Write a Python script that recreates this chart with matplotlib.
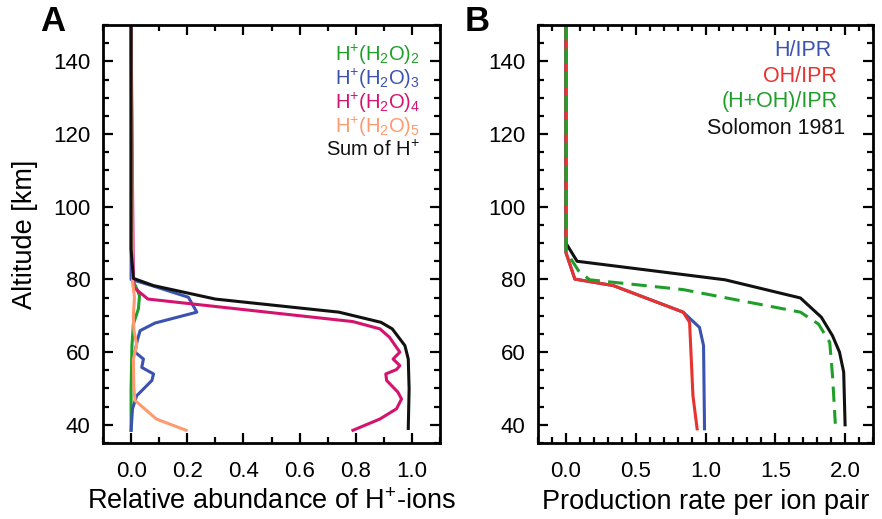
import matplotlib
matplotlib.use("Agg")
import matplotlib.pyplot as plt
from matplotlib.ticker import MultipleLocator

plt.rcParams['font.family'] = ['Liberation Sans', 'DejaVu Sans']
plt.rcParams['mathtext.fontset'] = 'custom'
plt.rcParams['mathtext.rm'] = 'Liberation Sans'
plt.rcParams['mathtext.it'] = 'Liberation Sans'
plt.rcParams['mathtext.bf'] = 'Liberation Sans:bold'

# ---- Panel A data: relative abundance vs altitude ----
alt_a_h2 = [150, 80, 77.5, 75.5, 71.9, 67.7, 61.6, 50, 38.5]
x_a_h2 = [0, 0.005, 0.02, 0.03, 0.026, 0.008, 0.003, 0.0, 0.0]

alt_a_h3 = [150, 80, 78.3, 75.1, 71, 68, 65.9, 63.2, 60, 58.1, 55.8, 54, 52.2, 48, 44.4, 38.5]
x_a_h3 = [0, 0, 0.074, 0.204, 0.234, 0.085, 0.032, 0.022, 0.014, 0.044, 0.038, 0.08, 0.074, 0.02, 0.005, 0]

alt_a_h4 = [150, 80.1, 77.9, 74.6, 68.4, 66.4, 64.1, 60, 58.1, 56.3, 55.2, 54, 52.2, 49, 47.1, 44.4, 41.6, 38.5]
x_a_h4 = [0, 0.008, 0.008, 0.06, 0.79, 0.886, 0.92, 0.957, 0.933, 0.957, 0.945, 0.907, 0.91, 0.95, 0.963, 0.945, 0.886, 0.79]

alt_a_h5 = [150, 80, 75, 70, 66, 62, 58, 50, 46.7, 41.6, 38.5]
x_a_h5 = [0, 0.005, 0.012, 0.008, 0.01, 0.02, 0.008, 0.01, 0.014, 0.09, 0.196]

alt_a_sum = [150, 88.4, 80.3, 78.3, 74.6, 71, 68.2, 66.4, 61.8, 58.1, 50, 39]
x_a_sum = [0, 0, 0.008, 0.08, 0.30, 0.74, 0.89, 0.93, 0.975, 0.987, 0.99, 0.987]

# ---- Panel B data: production rate per ion pair ----
alt_b_h = [150, 87.4, 80.1, 78.3, 71, 66.8, 61.8, 38.9]
x_b_h = [0, 0, 0.064, 0.34, 0.84, 0.957, 0.986, 0.993]

alt_b_oh = [150, 87.4, 80.1, 78.3, 71, 68.2, 48, 38.9]
x_b_oh = [0, 0, 0.064, 0.34, 0.84, 0.886, 0.91, 0.94]

alt_b_hoh = [150, 87.8, 82.4, 79.9, 77.2, 71, 67.7, 62.7, 53.5, 40.3]
x_b_hoh = [0, 0, 0.09, 0.17, 0.84, 1.68, 1.81, 1.89, 1.91, 1.93]

alt_b_sol = [150, 90, 85, 79.9, 74.9, 69.6, 64.5, 60, 54.5, 40]
x_b_sol = [0, 0, 0.08, 1.14, 1.68, 1.83, 1.91, 1.96, 1.99, 2.0]

labels_a = [r'H$^{+}$(H$_2$O)$_2$', r'H$^{+}$(H$_2$O)$_3$', r'H$^{+}$(H$_2$O)$_4$',
            r'H$^{+}$(H$_2$O)$_5$', r'Sum of H$^{+}$']
labels_b = ['H/IPR', 'OH/IPR', '(H+OH)/IPR', 'Solomon 1981']

GREEN = '#1f9f2a'
BLUE = '#3b52b0'
MAGENTA = '#d4136e'
ORANGE = '#ff9a70'
RED = '#e8322e'
BLACK = '#111111'

fig = plt.figure(figsize=(8.82, 5.19), dpi=100)
axA = fig.add_axes([103/882, 1-443/519, 337/882, 418/519])
axB = fig.add_axes([538/882, 1-443/519, 335/882, 418/519])

lw = 2.2
axA.plot(x_a_h2, alt_a_h2, color=GREEN, lw=lw)
axA.plot(x_a_h3, alt_a_h3, color=BLUE, lw=lw)
axA.plot(x_a_h4, alt_a_h4, color=MAGENTA, lw=lw)
axA.plot(x_a_h5, alt_a_h5, color=ORANGE, lw=lw)
axA.plot(x_a_sum, alt_a_sum, color=BLACK, lw=lw)

axB.plot(x_b_sol, alt_b_sol, color=BLACK, lw=lw)
axB.plot(x_b_h, alt_b_h, color=BLUE, lw=lw)
axB.plot(x_b_oh, alt_b_oh, color=RED, lw=lw)
axB.plot(x_b_hoh, alt_b_hoh, color=GREEN, lw=lw, dashes=(5, 2.7))

axA.set_xlim(-0.1, 1.1)
axB.set_xlim(-0.2, 2.2)
for ax in (axA, axB):
    ax.set_ylim(35, 150)
    ax.yaxis.set_major_locator(MultipleLocator(20))
    ax.yaxis.set_minor_locator(MultipleLocator(5))
    for s in ax.spines.values():
        s.set_linewidth(2.0)
    ax.tick_params(which='both', direction='in', top=True, right=True, width=1.6, labelsize=16)
    ax.tick_params(which='major', length=7)
    ax.tick_params(which='minor', length=4)
    ax.tick_params(axis='x', pad=13)
    ax.tick_params(axis='y', pad=9)

axA.xaxis.set_major_locator(MultipleLocator(0.2))
axA.xaxis.set_minor_locator(MultipleLocator(0.1))
axB.xaxis.set_major_locator(MultipleLocator(0.5))
axB.xaxis.set_minor_locator(MultipleLocator(0.1))

axA.set_xlabel(r'Relative abundance of H$^{+}$-ions', fontsize=19.5, labelpad=5)
axB.set_xlabel('Production rate per ion pair', fontsize=19.5, labelpad=5)
axA.set_ylabel('Altitude [km]', fontsize=19.5, labelpad=11)

# legends as coloured text
cols_a = [GREEN, BLUE, MAGENTA, ORANGE, BLACK]
ys_a = [55, 79, 103, 127, 150]
for lab, c, y in zip(labels_a, cols_a, ys_a):
    fig.text(420/882, 1 - y/519, lab, color=c, fontsize=14.5, ha='right', va='center')

cols_b = [BLUE, RED, GREEN, BLACK]
ys_b = [50, 76, 102, 128]
xs_b = [832, 837, 838, 845]
for lab, c, y, x in zip(labels_b, cols_b, ys_b, xs_b):
    fig.text(x/882, 1 - y/519, lab, color=c, fontsize=15.5, ha='right', va='center')

fig.text(53/882, 1 - 22/519, 'A', fontsize=25, fontweight='bold', ha='center', va='center')
fig.text(477/882, 1 - 22/519, 'B', fontsize=25, fontweight='bold', ha='center', va='center')

fig.savefig('out.png', dpi=100)
